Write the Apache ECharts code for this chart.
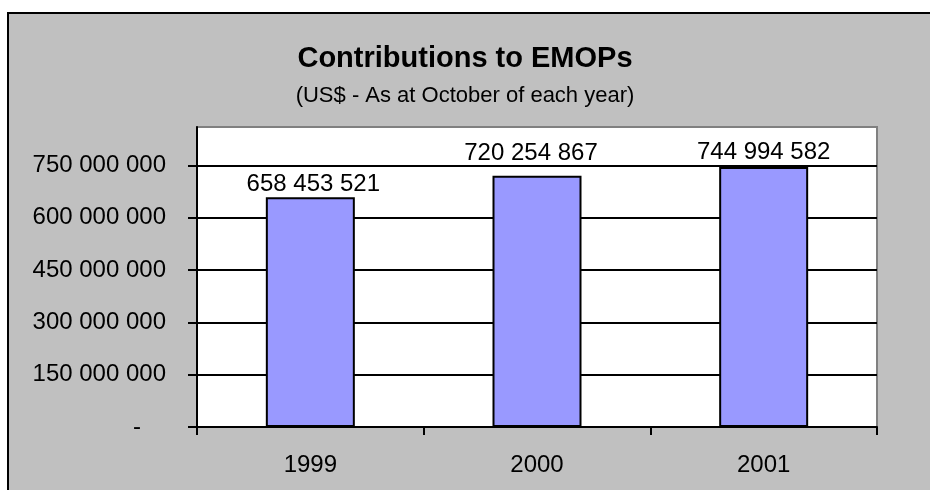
<!DOCTYPE html>
<html>
<head>
<meta charset="utf-8">
<title>Contributions to EMOPs</title>
<script src="https://cdn.jsdelivr.net/npm/echarts@6/dist/echarts.min.js"></script>
<style>
  html, body { margin: 0; padding: 0; background: #fff; }
  #chart { width: 930px; height: 490px; }
</style>
</head>
<body>
<div id="chart"></div>
<script>
// data
const years = ['1999', '2000', '2001']
const contributions = [658453521, 720254867, 744994582]
const yTicks = [0, 150000000, 300000000, 450000000, 600000000, 750000000]

const FONT = "'Liberation Sans', Arial, sans-serif"
// the value labels were nudged by hand in the original sheet
const labelNudge = [[3, 9], [-6, 0], [0, 7]]

const fmtSpaced = (v) => String(Math.round(v)).replace(/\B(?=(\d{3})+(?!\d))/g, ' ')

const chartDom = document.getElementById('chart')
const myChart = echarts.init(chartDom)

const barData = contributions.map((v, i) => ({
  value: v,
  label: { offset: labelNudge[i] }
}))

let option = {
  backgroundColor: '#fff',
  animation: false,
  graphic: [
    {
      type: 'rect',
      z: -10,
      shape: { x: 8, y: 13, width: 1000, height: 1000 },
      style: { fill: '#c0c0c0', stroke: '#000', lineWidth: 2 }
    }
  ],
  title: [
    {
      text: 'Contributions to EMOPs',
      left: 'center',
      top: 39,
      textStyle: { fontFamily: FONT, fontSize: 29, fontWeight: 'bold', color: '#000' }
    },
    {
      text: '(US$ - As at October of each year)',
      left: 'center',
      top: 80,
      textStyle: { fontFamily: FONT, fontSize: 22, fontWeight: 'normal', color: '#000' }
    }
  ],
  grid: {
    left: 197,
    right: 53,
    top: 127,
    bottom: 63,
    show: true,
    backgroundColor: '#fff',
    borderColor: '#808080',
    borderWidth: 2
  },
  xAxis: {
    type: 'category',
    data: years,
    axisLine: { lineStyle: { color: '#000', width: 2 } },
    axisTick: { show: true, length: 8, lineStyle: { color: '#000', width: 2 } },
    axisLabel: { fontFamily: FONT, fontSize: 24, color: '#000', margin: 26 }
  },
  yAxis: {
    type: 'value',
    min: 0,
    max: 860000000,
    interval: 150000000,
    axisLine: { show: true, lineStyle: { color: '#000', width: 2 } },
    axisTick: { show: true, length: 9, customValues: yTicks, lineStyle: { color: '#000', width: 2 } },
    splitLine: { show: true, showMinLine: false, lineStyle: { color: '#000', width: 2 } },
    axisLabel: {
      customValues: yTicks,
      margin: 31,
      fontFamily: FONT,
      fontSize: 24,
      color: '#000',
      formatter: (v) => (v === 0 ? '{z|-}' : fmtSpaced(v)),
      rich: {
        z: { fontFamily: FONT, fontSize: 24, color: '#000', padding: [0, 25, 0, 0] }
      }
    }
  },
  series: [
    {
      name: 'Contributions',
      type: 'bar',
      barWidth: 89,
      data: barData,
      itemStyle: { color: '#9999ff', borderColor: '#000', borderWidth: 2 },
      label: {
        show: true,
        position: 'top',
        distance: 10,
        fontFamily: FONT,
        fontSize: 24,
        color: '#000',
        formatter: (p) => fmtSpaced(p.value)
      }
    }
  ]
}
option && myChart.setOption(option)
</script>
</body>
</html>
